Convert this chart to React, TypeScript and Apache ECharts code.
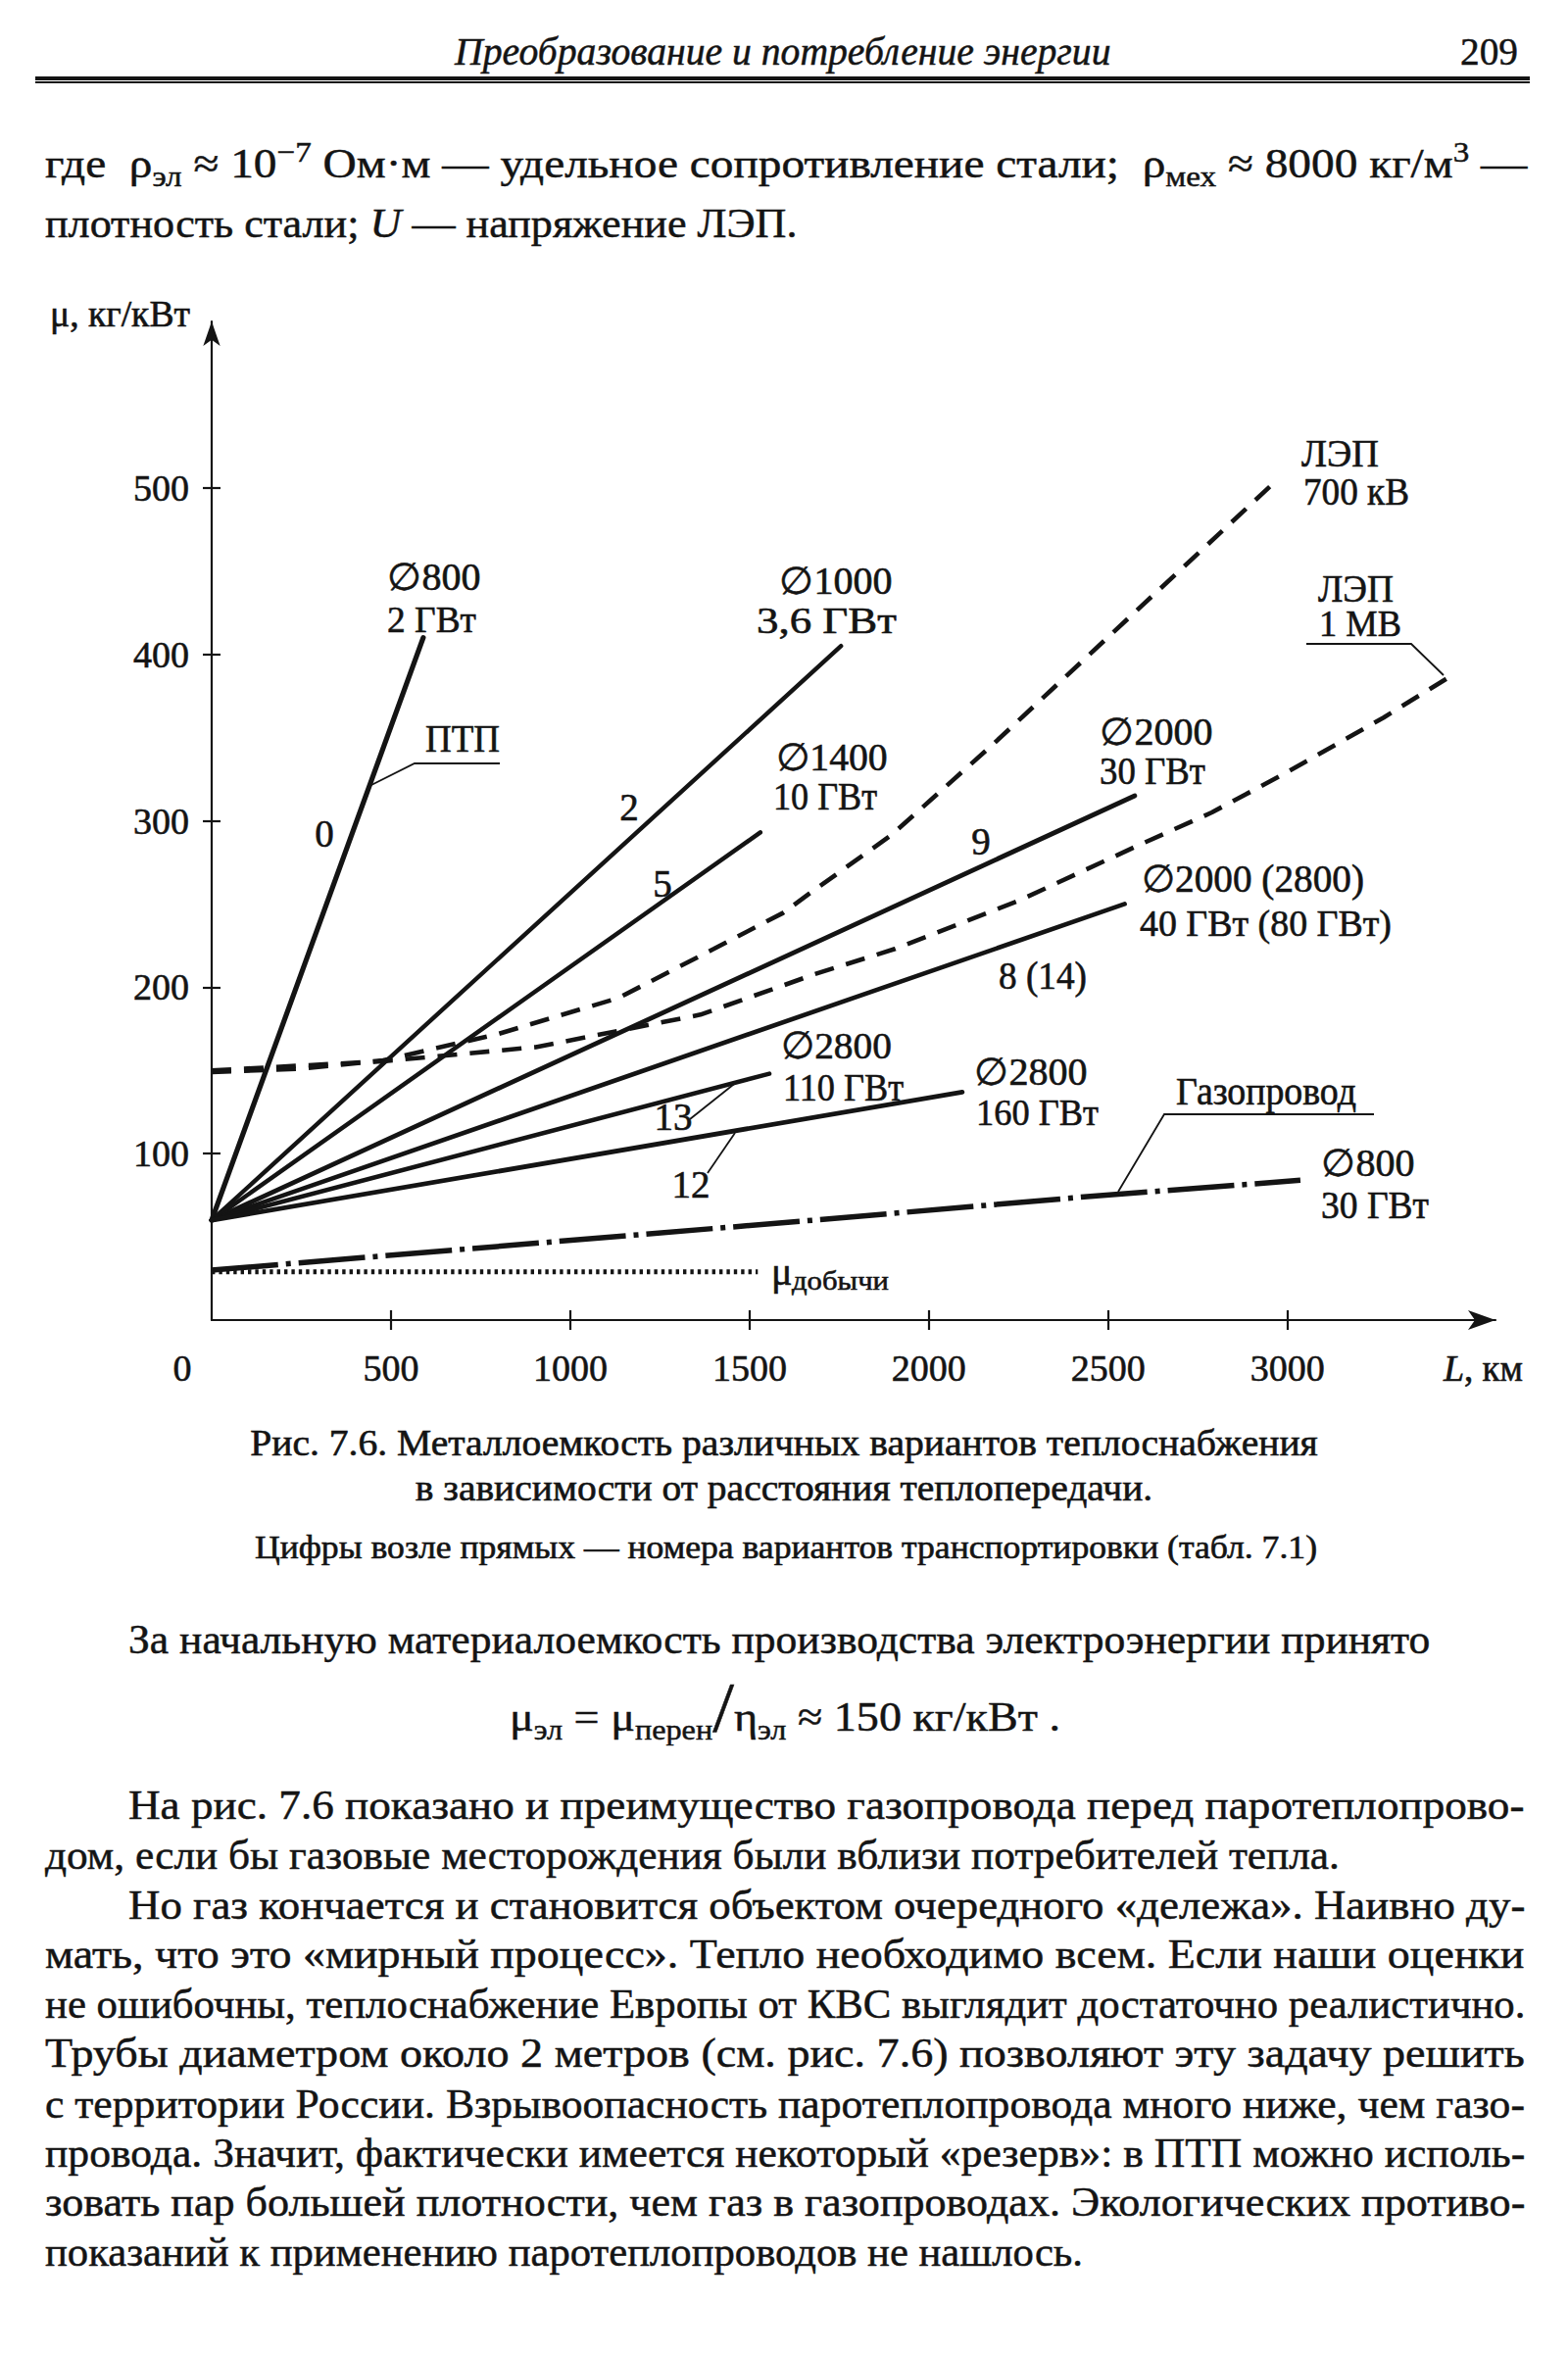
import React, { useEffect, useLayoutEffect, useRef } from "react";
import * as echarts from "echarts";

// ---------------- DATA ----------------
// L, km  /  μ, kg/kW
const xTickValues = [500, 1000, 1500, 2000, 2500, 3000];
const yTickValues = [100, 200, 300, 400, 500];

// solid lines: heat pipelines (variant numbers 0, 2, 5, 9, 8(14), 13, 12)
const line0 = [[0, 60], [590, 410]];
const line2 = [[0, 60], [1755, 405]];
const line5 = [[0, 60], [1530, 293]];
const line9 = [[0, 60], [2574, 315]];
const line8 = [[0, 60], [2546, 250]];
const line13 = [[0, 60], [1555, 148]];
const line12 = [[0, 60], [2093, 137]];

// dashed curves: power lines
const lep700kV = [
  [0, 149], [250, 151], [478, 156], [800, 172], [1134, 193.5], [1400, 223],
  [1593, 244.6], [1678, 258], [1896, 291.5], [2169, 344], [2962, 503],
];
const lep1MV = [
  [0, 150], [478, 155.5], [904, 164], [1363, 183.5], [1593, 201], [1678, 207.6],
  [1905, 223], [2251, 252], [2588, 285.6], [2789, 305], [2989, 328], [3268, 362], [3456, 387],
];

// dash-dot: gas pipeline; dotted: extraction level
const gasPipeline = [[0, 30], [1678, 60], [2459, 74.5], [3036, 84]];
const extraction = [[0, 29], [1523, 29]];

// ---------------- STYLE ----------------
const FONT = '"Liberation Serif", "Times New Roman", "DejaVu Serif", serif';
const INK = "#141414";
const THICK = 0.6; // slight glyph thickening, as in the printed page

function Chart() {
  const ref = useRef<HTMLDivElement>(null);
  useEffect(() => {
    const chart = echarts.init(ref.current!, null, { renderer: "svg" });
    const cv = document.createElement("canvas").getContext("2d")!;
    const fit = (text: string, size: number, italic: boolean, target?: number) => {
      if (!target) return 1;
      cv.font = `${italic ? "italic " : ""}${size}px ${FONT}`;
      const w = cv.measureText(text).width;
      if (!(w > 0)) return 1;
      return Math.max(0.75, Math.min(1.35, target / w));
    };
    const T = (
      text: string,
      x: number,
      y: number,
      o: { size?: number; w?: number; align?: string; italic?: boolean } = {}
    ) => {
      const size = o.size ?? 39;
      const italic = !!o.italic;
      const align = o.align ?? "left";
      return {
        type: "text",
        x,
        y,
        scaleX: fit(text, size, italic, o.w),
        z: 50,
        silent: true,
        style: {
          text,
          fontSize: size,
          fontFamily: FONT,
          fontStyle: italic ? "italic" : "normal",
          fill: INK,
          stroke: INK,
          lineWidth: THICK,
          align,
          verticalAlign: "middle",
          textAlign: align,
          textVerticalAlign: "middle",
        },
      };
    };
    const leader = (pts: number[][]) => ({
      type: "polyline",
      z: 50,
      silent: true,
      shape: { points: pts },
      style: { stroke: INK, lineWidth: 1.8, fill: null },
    });

    const solid = (data: number[][], width = 4.6) => ({
      type: "line",
      data,
      symbol: "none",
      silent: true,
      lineStyle: { color: INK, width, cap: "round" },
    });

    const tickStyle = { color: INK, width: 2.2 };
    const labelStyle = {
      color: INK, fontSize: 38, fontFamily: FONT,
      textBorderColor: INK, textBorderWidth: THICK,
      formatter: (v: number) => String(v),
    };
    const graphic: any[] = [
      // axis captions
      T("μ, кг/кВт", 51, 321, { size: 37, w: 143 }),
      T("0", 186, 1396, { size: 38, align: "center" }),
      T("L", 1473, 1396, { italic: true, size: 38 }),
      T(", км", 1494, 1396, { w: 60, size: 38 }),
      // annotations
      T("∅800", 395, 589, { w: 95 }),
      T("2 ГВт", 395, 632, { w: 91 }),
      T("ПТП", 434, 754, { w: 76 }),
      T("0", 331, 850, { align: "center" }),
      T("2", 642, 823, { align: "center" }),
      T("5", 676, 901, { align: "center" }),
      T("∅1000", 795, 593, { w: 115 }),
      T("3,6 ГВт", 772, 633, { w: 143 }),
      T("∅1400", 792, 773, { w: 114 }),
      T("10 ГВт", 789, 813, { w: 106 }),
      T("9", 1001, 858, { align: "center" }),
      T("∅2000", 1122, 747, { w: 115 }),
      T("30 ГВт", 1122, 787, { w: 108 }),
      T("ЛЭП", 1328, 463, { w: 79 }),
      T("700 кВ", 1330, 502, { w: 108 }),
      T("ЛЭП", 1345, 601, { w: 77 }),
      T("1 МВ", 1346, 636, { w: 84 }),
      T("∅2000 (2800)", 1165, 897, { w: 227 }),
      T("40 ГВт (80 ГВт)", 1163, 942, { w: 257 }),
      T("8 (14)", 1019, 996, { w: 90 }),
      T("∅2800", 797, 1067, { w: 113 }),
      T("110 ГВт", 799, 1110, { w: 123 }),
      T("∅2800", 994, 1094, { w: 115 }),
      T("160 ГВт", 996, 1135, { w: 125 }),
      T("13", 687, 1139, { align: "center" }),
      T("12", 705, 1208, { align: "center" }),
      T("Газопровод", 1200, 1114, { w: 184 }),
      T("∅800", 1348, 1187, { w: 95 }),
      T("30 ГВт", 1348, 1230, { w: 110 }),
      T("μ", 787, 1297, { size: 40 }),
      T("добычи", 808, 1306, { size: 28, w: 99 }),
      // leader lines
      leader([[510, 779], [423, 779], [375, 803]]),
      leader([[704, 1142], [753, 1103]]),
      leader([[722, 1197], [750, 1156]]),
      leader([[1402, 1137], [1188, 1137], [1141, 1216]]),
      leader([[1333, 657], [1440, 657], [1473, 689]]),
      // caption
      T("Рис. 7.6. Металлоемкость различных вариантов теплоснабжения", 800, 1472, { size: 37, w: 1090, align: "center" }),
      T("в зависимости от расстояния теплопередачи.", 800, 1518, { size: 37, w: 753, align: "center" }),
      T("Цифры возле прямых — номера вариантов транспортировки (табл. 7.1)", 802, 1578, { size: 33, w: 1085, align: "center" }),
    ];

    chart.setOption({
      animation: false,
      backgroundColor: "transparent",
      grid: { left: 216, right: 74, top: 328, bottom: 1053, containLabel: false },
      xAxis: [
        {
          type: "value", min: 0, max: 3580, position: "bottom",
          axisLine: { show: true, onZero: false, lineStyle: { color: INK, width: 2.2 }, symbol: ["none", "arrow"], symbolSize: [15, 28] },
          axisTick: { show: true, length: 10, lineStyle: tickStyle, customValues: xTickValues },
          axisLabel: { show: true, customValues: xTickValues, margin: 30, ...labelStyle },
          splitLine: { show: false },
        },
        {
          type: "value", min: 0, max: 3580, position: "bottom",
          axisLine: { show: false, onZero: false },
          axisTick: { show: true, inside: true, length: 10, lineStyle: tickStyle, customValues: xTickValues },
          axisLabel: { show: false },
          splitLine: { show: false },
        },
      ],
      yAxis: [
        {
          type: "value", min: 0, max: 600, position: "left",
          axisLine: { show: true, onZero: false, lineStyle: { color: INK, width: 2.2 }, symbol: ["none", "arrow"], symbolSize: [13, 25] },
          axisTick: { show: true, length: 9, lineStyle: tickStyle, customValues: yTickValues },
          axisLabel: { show: true, customValues: yTickValues, margin: 23, ...labelStyle },
          splitLine: { show: false },
        },
        {
          type: "value", min: 0, max: 600, position: "left",
          axisLine: { show: false, onZero: false },
          axisTick: { show: true, inside: true, length: 9, lineStyle: tickStyle, customValues: yTickValues },
          axisLabel: { show: false },
          splitLine: { show: false },
        },
      ],
      series: [
        solid(line0, 5.2),
        solid(line2, 4.4),
        solid(line5, 4.4),
        solid(line9, 4.8),
        solid(line8, 4.6),
        solid(line13, 4.6),
        solid(line12, 4.8),
        {
          type: "line", data: lep700kV, symbol: "none", silent: true,
          lineStyle: { color: INK, width: 4.6, type: [20, 13] },
        },
        {
          type: "line", data: lep1MV, symbol: "none", silent: true,
          lineStyle: { color: INK, width: 4.6, type: [20, 13] },
        },
        {
          type: "line", data: gasPipeline, symbol: "none", silent: true,
          lineStyle: { color: INK, width: 5.5, type: [68, 8, 5, 8] },
        },
        {
          type: "line", data: extraction, symbol: "none", silent: true,
          lineStyle: { color: INK, width: 5, type: [3.4, 4] },
        },
      ],
      graphic,
    });
    return () => chart.dispose();
  }, []);
  return <div ref={ref} style={{ position: "absolute", left: 0, top: 0, width: 1600, height: 2400 }} />;
}

// ---------------- PAGE TEXT ----------------
const sub = (t: string) => (
  <span style={{ fontSize: "0.7em", position: "relative", top: "0.32em", lineHeight: 0 }}>{t}</span>
);
const sup = (t: string) => (
  <span style={{ fontSize: "0.7em", position: "relative", top: "-0.55em", lineHeight: 0 }}>{t}</span>
);

type PLine = { c: React.ReactNode; x: number; y: number; w: number; size: number; italic?: boolean };

const pageLines: PLine[] = [
  { c: "Преобразование и потребление энергии", x: 464, y: 53, w: 669, size: 39, italic: true },
  { c: "209", x: 1490, y: 53, w: 59, size: 40 },
  {
    c: (
      <>
        где&nbsp; ρ{sub("эл")} ≈ 10{sup("−7")} Ом·м — удельное сопротивление стали;&nbsp; ρ{sub("мех")} ≈ 8000 кг/м{sup("3")} —
      </>
    ),
    x: 46, y: 167, w: 1512, size: 42,
  },
  { c: <>плотность стали; <i>U</i> — напряжение ЛЭП.</>, x: 46, y: 228, w: 768, size: 42 },
  { c: "За начальную материалоемкость производства электроэнергии принято", x: 131, y: 1673, w: 1328, size: 42 },
  {
    c: (
      <>
        μ{sub("эл")} = μ{sub("перен")}
        <span style={{ fontSize: "1.7em", lineHeight: 0, fontWeight: 300 }}>/</span>η{sub("эл")} ≈ 150 кг/кВт .
      </>
    ),
    x: 520, y: 1752, w: 562, size: 42,
  },
  { c: "На рис. 7.6 показано и преимущество газопровода перед паротеплопрово-", x: 131, y: 1842, w: 1425, size: 42 },
  { c: "дом, если бы газовые месторождения были вблизи потребителей тепла.", x: 46, y: 1893, w: 1321, size: 42 },
  { c: "Но газ кончается и становится объектом очередного «дележа». Наивно ду-", x: 131, y: 1944, w: 1425, size: 42 },
  { c: "мать, что это «мирный процесс». Тепло необходимо всем. Если наши оценки", x: 46, y: 1994, w: 1510, size: 42 },
  { c: "не ошибочны, теплоснабжение Европы от КВС выглядит достаточно реалистично.", x: 46, y: 2045, w: 1510, size: 42 },
  { c: "Трубы диаметром около 2 метров (см. рис. 7.6) позволяют эту задачу решить", x: 46, y: 2095, w: 1510, size: 42 },
  { c: "с территории России. Взрывоопасность паротеплопровода много ниже, чем газо-", x: 46, y: 2147, w: 1510, size: 42 },
  { c: "провода. Значит, фактически имеется некоторый «резерв»: в ПТП можно исполь-", x: 46, y: 2197, w: 1510, size: 42 },
  { c: "зовать пар большей плотности, чем газ в газопроводах. Экологических противо-", x: 46, y: 2247, w: 1510, size: 42 },
  { c: "показаний к применению паротеплопроводов не нашлось.", x: 46, y: 2298, w: 1059, size: 42 },
];

function PageText() {
  const refs = useRef<(HTMLSpanElement | null)[]>([]);
  useLayoutEffect(() => {
    refs.current.forEach((el) => {
      if (!el) return;
      const target = Number(el.dataset.w);
      const nat = el.offsetWidth;
      if (nat > 0 && target > 0) el.style.transform = `scaleX(${target / nat})`;
    });
  }, []);
  return (
    <>
      <div style={{ position: "absolute", left: 36, top: 78, width: 1525, height: 3.5, background: INK }} />
      <div style={{ position: "absolute", left: 36, top: 83.4, width: 1525, height: 1.5, background: INK }} />
      {pageLines.map((l, i) => (
        <span
          key={i}
          ref={(el) => {
            refs.current[i] = el;
          }}
          data-w={l.w}
          style={{
            position: "absolute",
            left: l.x,
            top: l.y - 0.5065 * l.size,
            fontSize: l.size,
            lineHeight: 1,
            fontFamily: FONT,
            fontStyle: l.italic ? "italic" : "normal",
            whiteSpace: "nowrap",
            color: INK,
            WebkitTextStroke: `${THICK * 0.8}px ${INK}`,
            transformOrigin: "0 50%",
          }}
        >
          {l.c}
        </span>
      ))}
    </>
  );
}

export default function App() {
  return (
    <div style={{ position: "absolute", left: 0, top: 0, width: 1600, height: 2400, background: "#fff" }}>
      <Chart />
      <PageText />
    </div>
  );
}
